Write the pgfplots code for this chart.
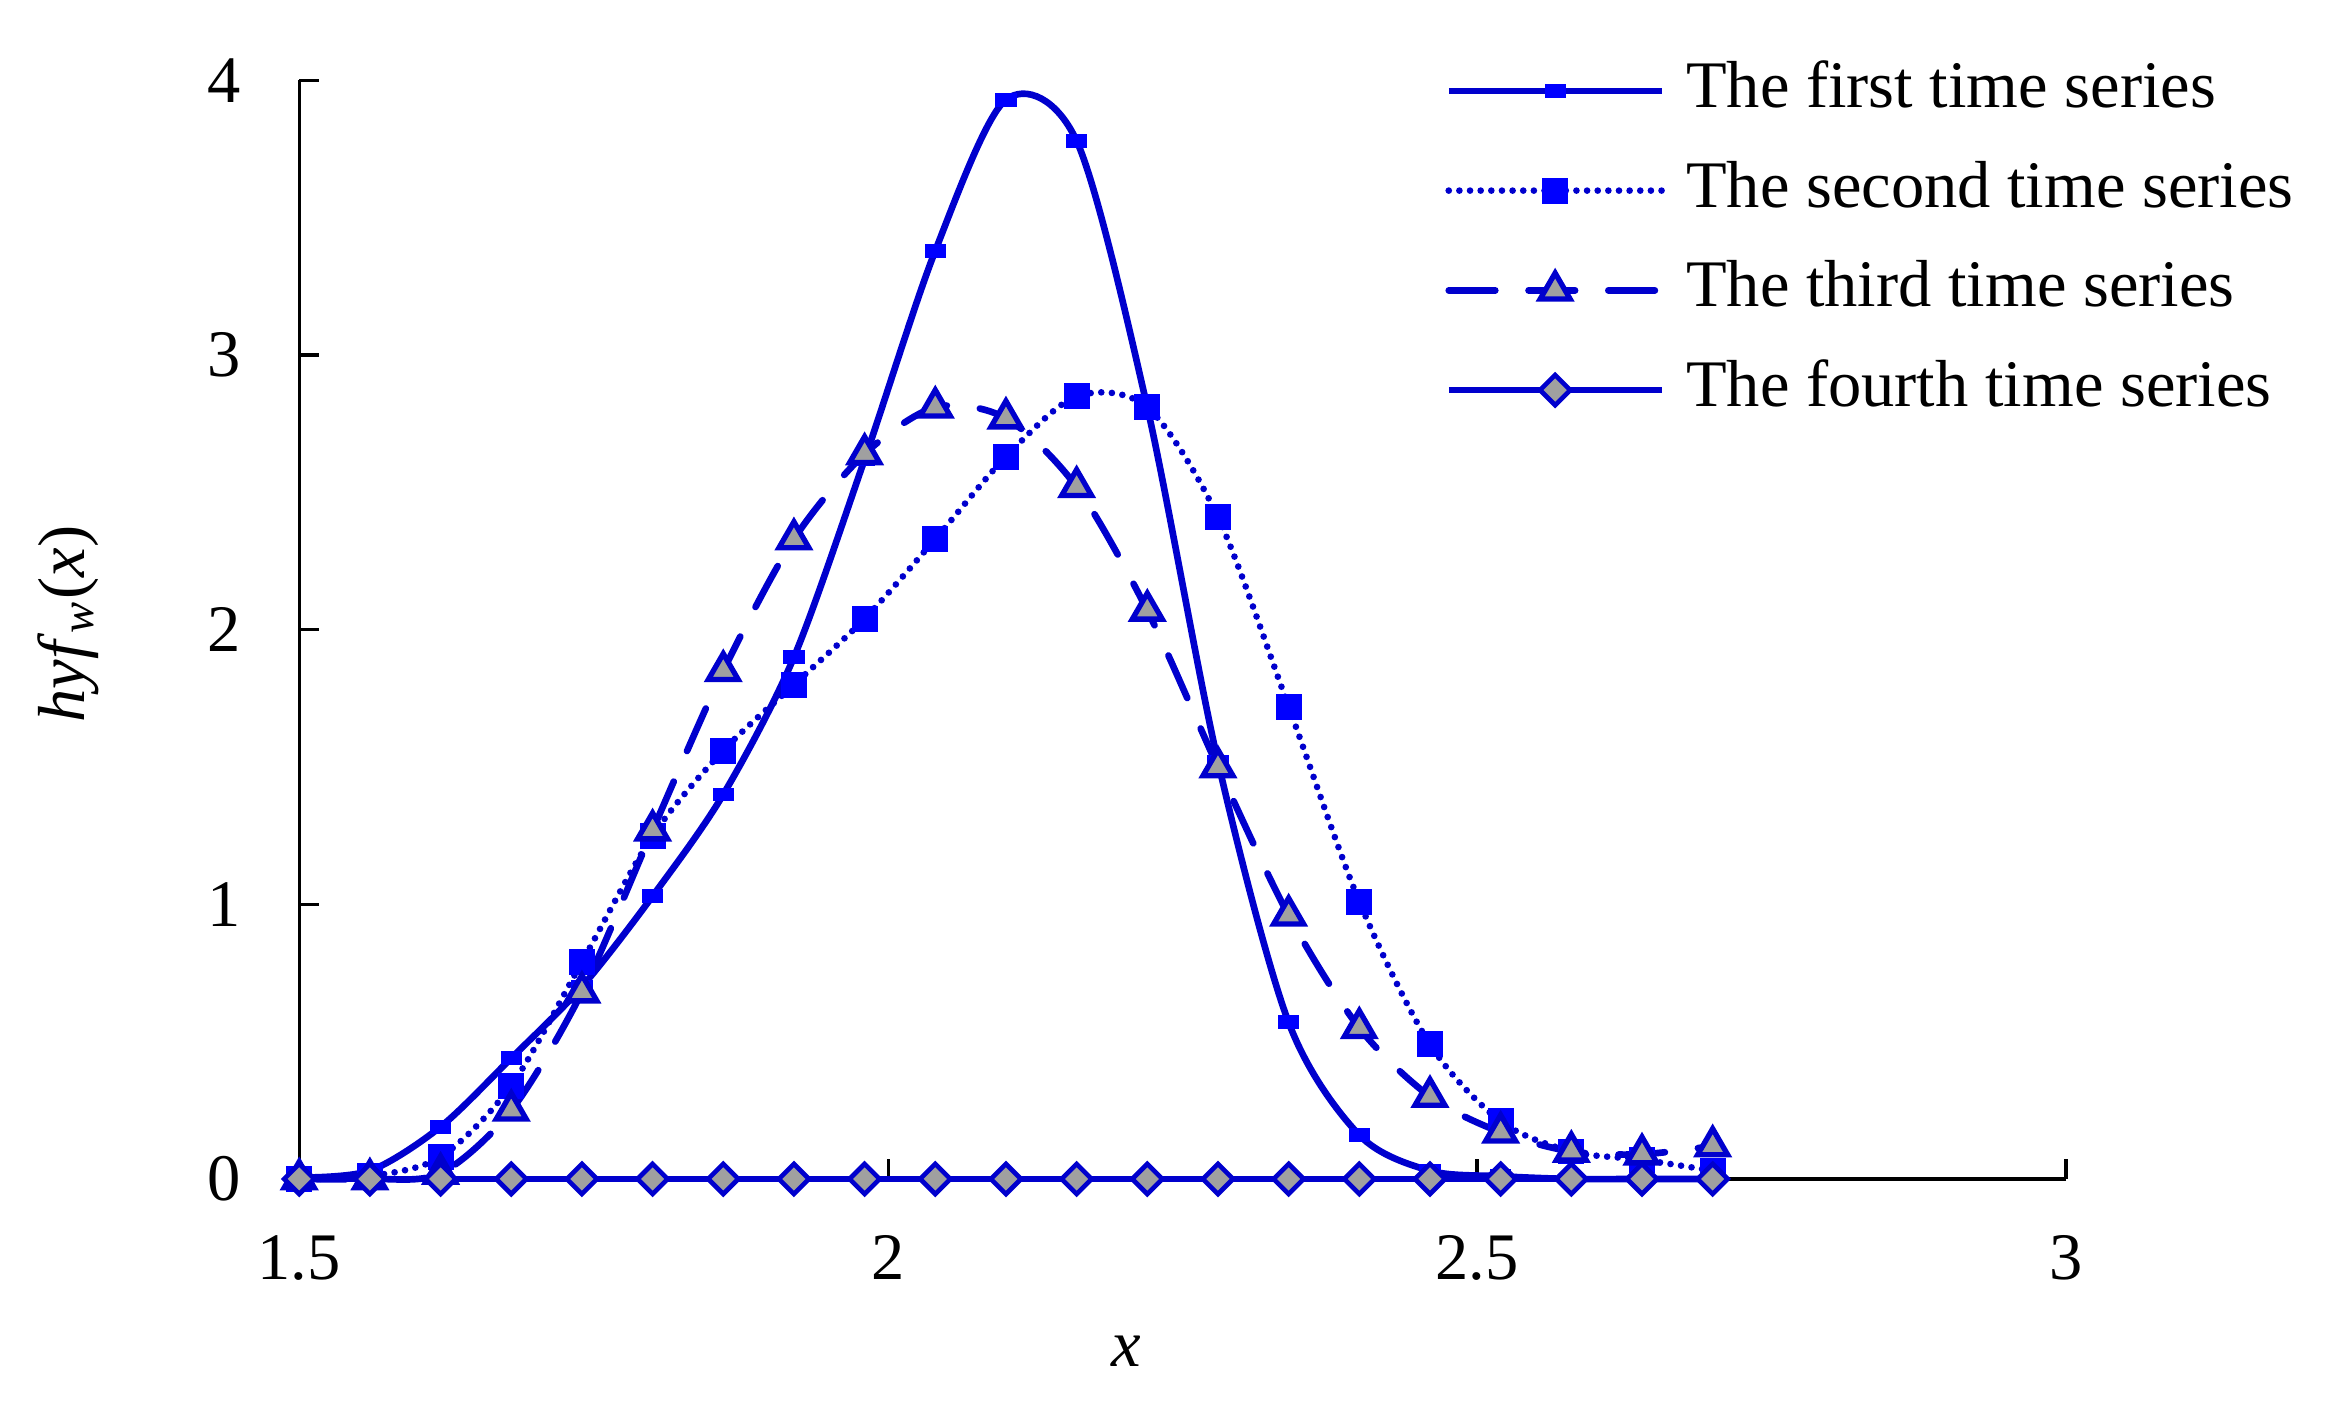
\documentclass[border=0pt]{standalone}
\usepackage{fontspec}
\setmainfont{Liberation Serif}
\usepackage{pgfplots}
\pgfplotsset{compat=1.18}
\definecolor{lblue}{RGB}{0,0,205}
\definecolor{mblue}{RGB}{0,0,255}
\definecolor{mgray}{RGB}{160,160,160}
\begin{document}
\begin{tikzpicture}
\begin{axis}[
  width=265.7pt, height=165.2pt, scale only axis,
  xmin=1.5, xmax=3, ymin=0, ymax=4,
  axis x line*=bottom, axis y line*=left,
  axis line style={line width=0.5pt},
  tick align=inside, major tick length=3pt,
  tick style={line width=0.5pt, black},
  xtick={1.5,2,2.5,3}, ytick={0,1,2,3,4},
  /pgf/number format/assume math mode=true,
  xticklabel style={yshift=-5.0pt},
  yticklabel style={xshift=-5.2pt},
  xlabel={\textit{x}},
  ylabel={\textit{hyf}\textsubscript{\textit{w}}(\textit{x})},
  xlabel style={at={(axis description cs:0.468,-0.171)}, anchor=base},
  ylabel style={at={(axis description cs:-0.131,0.505)}, anchor=center},
  clip=false,
  legend style={at={(axis description cs:0.648,1.019)}, anchor=north west,
    draw=none, fill=none, inner sep=0pt, row sep=6pt,
    nodes={inner sep=0pt, text height=7pt, text depth=2pt},
    /tikz/every odd column/.append style={column sep=3.2pt}},
  legend cell align=left,
  legend image code/.code={\draw[mark repeat=2,mark phase=2] plot coordinates {(0pt,0pt) (16pt,0pt) (32pt,0pt)};},
]
\addplot[smooth, lblue, line width=1pt, mark=square*, mark size=1.1pt,
  mark options={yscale=0.5, solid, fill=mblue, draw=mblue}] coordinates {
(1.50,0.005) (1.56,0.03) (1.62,0.19) (1.68,0.44) (1.74,0.70) (1.80,1.03)
(1.86,1.40) (1.92,1.90) (1.98,2.62) (2.04,3.38) (2.10,3.93) (2.16,3.78)
(2.22,2.81) (2.28,1.52) (2.34,0.57) (2.40,0.16) (2.46,0.03) (2.52,0.01)
(2.58,0.0) (2.64,0.0) (2.70,0.0)};
\addlegendentry{The first time series}
\addplot[smooth, lblue, line width=1pt, line cap=round, dash pattern=on 0pt off 1.6pt,
  mark=square*, mark size=1.45pt, mark options={solid, fill=mblue, draw=mblue}] coordinates {
(1.50,0.0) (1.56,0.01) (1.62,0.08) (1.68,0.34) (1.74,0.79) (1.80,1.25)
(1.86,1.56) (1.92,1.80) (1.98,2.04) (2.04,2.33) (2.10,2.63) (2.16,2.85)
(2.22,2.81) (2.28,2.41) (2.34,1.72) (2.40,1.01) (2.46,0.49) (2.52,0.21)
(2.58,0.10) (2.64,0.07) (2.70,0.03)};
\addlegendentry{The second time series}
\addplot[smooth, lblue, line width=1pt, line cap=round, dash pattern=on 7pt off 5pt,
  mark=triangle*, mark size=2.6pt, mark options={solid, fill=mgray, draw=lblue, line width=0.8pt}] coordinates {
(1.50,0.0) (1.56,0.0) (1.62,0.02) (1.68,0.25) (1.74,0.68) (1.80,1.27)
(1.86,1.85) (1.92,2.33) (1.98,2.64) (2.04,2.81) (2.10,2.77) (2.16,2.52)
(2.22,2.07) (2.28,1.50) (2.34,0.96) (2.40,0.55) (2.46,0.30) (2.52,0.17)
(2.58,0.10) (2.64,0.09) (2.70,0.12)};
\addlegendentry{The third time series}
\addplot[lblue, line width=1pt,
  mark=square*, mark size=1.6pt, mark options={solid, rotate=45, fill=mgray, draw=lblue, line width=0.7pt}] coordinates {
(1.50,0) (1.56,0) (1.62,0) (1.68,0) (1.74,0) (1.80,0)
(1.86,0) (1.92,0) (1.98,0) (2.04,0) (2.10,0) (2.16,0)
(2.22,0) (2.28,0) (2.34,0) (2.40,0) (2.46,0) (2.52,0)
(2.58,0) (2.64,0) (2.70,0)};
\addlegendentry{The fourth time series}
\end{axis}
\pgfresetboundingbox
\path ([xshift=-45pt,yshift=-34.3pt]current axis.south west) rectangle ([xshift=40.3pt,yshift=12.1pt]current axis.north east);
\end{tikzpicture}
\end{document}
